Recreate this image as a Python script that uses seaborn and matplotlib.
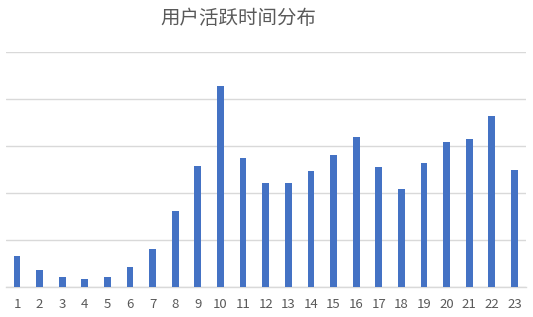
import matplotlib
matplotlib.use("Agg")
import matplotlib.pyplot as plt
import seaborn as sns
import pandas as pd

# Hour of day and activity count per hour
hours = [str(h) for h in range(1, 24)]
activity = [67, 36, 21, 16, 21, 42, 81, 161, 257, 428, 274, 221, 221,
            247, 281, 320, 255, 209, 264, 308, 315, 364, 250]
title = "用户活跃时间分布"

sns.set_theme(style="white")
plt.rcParams["font.family"] = ["Noto Sans CJK SC", "DejaVu Sans"]

df = pd.DataFrame({"hour": hours, "count": activity})

fig = plt.figure(figsize=(5.33, 3.17), dpi=100)
ax = fig.add_axes([5.7 / 533, 30 / 317, 520 / 533, (287 - 52.3) / 317])

sns.barplot(data=df, x="hour", y="count", color="#4472C4", saturation=1,
            width=0.3, linewidth=0, ax=ax, zorder=3)

ax.set_ylim(0, 500)
ax.set_xlim(-0.5, len(hours) - 0.5)
ax.set_yticks(range(0, 501, 100))
ax.yaxis.grid(True, color="#d9d9d9", linewidth=1)
ax.set_axisbelow(True)
ax.tick_params(axis="y", left=False, labelleft=False)
ax.tick_params(axis="x", bottom=False, labelsize=9.5, labelcolor="#595959", pad=2)
ax.set_xlabel("")
ax.set_ylabel("")
for side in ["top", "right", "left"]:
    ax.spines[side].set_visible(False)
ax.spines["bottom"].set_color("#d9d9d9")
ax.spines["bottom"].set_linewidth(1)

fig.text(238 / 533, 1 - 18.5 / 317, title, ha="center", va="center",
         fontsize=14, color="#595959")

fig.savefig("out.png", dpi=100, facecolor="white")
